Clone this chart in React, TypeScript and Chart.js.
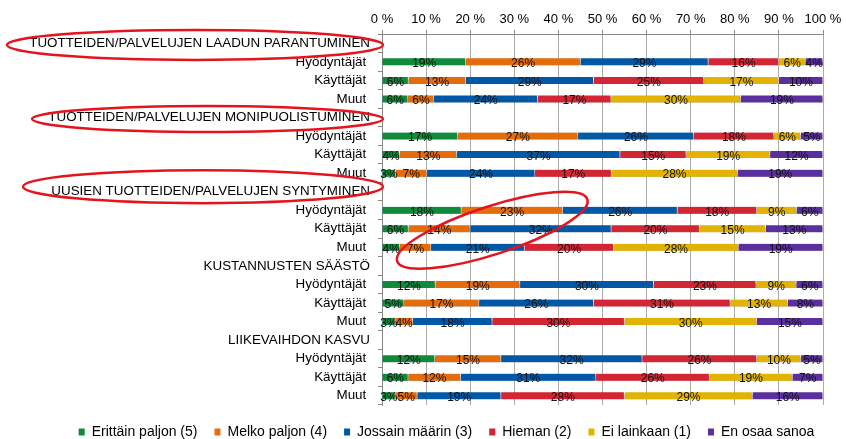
import React, { useEffect, useRef } from 'react';
import { Chart, registerables } from 'chart.js';

Chart.register(...registerables);

const categories = [
  'TUOTTEIDEN/PALVELUJEN LAADUN PARANTUMINEN', 'Hyödyntäjät ', 'Käyttäjät ', 'Muut ',
  'TUOTTEIDEN/PALVELUJEN MONIPUOLISTUMINEN', 'Hyödyntäjät ', 'Käyttäjät ', 'Muut ',
  'UUSIEN TUOTTEIDEN/PALVELUJEN SYNTYMINEN', 'Hyödyntäjät ', 'Käyttäjät ', 'Muut ',
  'KUSTANNUSTEN SÄÄSTÖ', 'Hyödyntäjät ', 'Käyttäjät ', 'Muut ',
  'LIIKEVAIHDON KASVU', 'Hyödyntäjät ', 'Käyttäjät ', 'Muut ',
];

const seriesNames = ['Erittäin paljon (5)', 'Melko paljon (4)', 'Jossain määrin (3)', 'Hieman (2)', 'Ei lainkaan (1)', 'En osaa sanoa'];

const erittainPaljon = [null, 19, 6, 6, null, 17, 4, 3, null, 18, 6, 4, null, 12, 5, 3, null, 12, 6, 3];
const melkoPaljon = [null, 26, 13, 6, null, 27, 13, 7, null, 23, 14, 7, null, 19, 17, 4, null, 15, 12, 5];
const jossainMaarin = [null, 29, 29, 24, null, 26, 37, 24, null, 26, 32, 21, null, 30, 26, 18, null, 32, 31, 19];
const hieman = [null, 16, 25, 17, null, 18, 15, 17, null, 18, 20, 20, null, 23, 31, 30, null, 26, 26, 28];
const eiLainkaan = [null, 6, 17, 30, null, 6, 19, 28, null, 9, 15, 28, null, 9, 13, 30, null, 10, 19, 29];
const enOsaaSanoa = [null, 4, 10, 19, null, 5, 12, 19, null, 6, 13, 19, null, 6, 8, 15, null, 5, 7, 16];

const xTicks = [0, 10, 20, 30, 40, 50, 60, 70, 80, 90, 100];

const colors = ['#0F8B3B', '#E46C0A', '#0058A6', '#D42535', '#E2B300', '#5B2FA0'];

const allSeries = [erittainPaljon, melkoPaljon, jossainMaarin, hieman, eiLainkaan, enOsaaSanoa];

const FONT = 'Arial, "Liberation Sans", sans-serif';

// annotation rings (hand-drawn red ellipses)
const headerRings = [
  { index: 0, left: 7, dy: 1.7, ry: 15 },
  { index: 4, left: 32, dy: 1.5, ry: 13 },
  { index: 8, left: 23, dy: -5, ry: 16.5 },
];
const tiltedRing = { xValue: 25, index: 10, dy: 1.5, rx: 100, ry: 24, rot: -18 };

const legendLeft = 47;

const shadowPlugin = {
  id: 'barShadow',
  beforeDatasetsDraw(chart: any) {
    const ctx = chart.ctx;
    ctx.save();
    ctx.shadowColor = 'rgba(0,0,0,0.35)';
    ctx.shadowOffsetX = 1;
    ctx.shadowOffsetY = 2;
    ctx.shadowBlur = 2;
  },
  afterDatasetsDraw(chart: any) {
    chart.ctx.restore();
  },
};

const legendShiftPlugin = {
  id: 'legendShift',
  afterLayout(chart: any) {
    if (chart.legend) {
      chart.legend.left = legendLeft;
      chart.legend.right = chart.width;
    }
  },
};

const labelPlugin = {
  id: 'segLabels',
  afterDatasetsDraw(chart: any) {
    const ctx = chart.ctx;
    ctx.save();
    ctx.font = `12px ${FONT}`;
    ctx.fillStyle = '#111';
    ctx.textAlign = 'center';
    ctx.textBaseline = 'middle';
    chart.data.datasets.forEach((ds: any, di: number) => {
      const meta = chart.getDatasetMeta(di);
      meta.data.forEach((el: any, i: number) => {
        const raw = ds.rawValues[i];
        if (raw == null) return;
        const x = (el.x + el.base) / 2;
        ctx.fillText(`${raw}%`, x, el.y + 2);
      });
    });
    ctx.restore();
  },
};

const ringPlugin = {
  id: 'rings',
  afterDraw(chart: any) {
    const { ctx, chartArea, scales } = chart;
    ctx.save();
    ctx.strokeStyle = '#E5141C';
    ctx.lineWidth = 2.5;
    headerRings.forEach((r) => {
      const yc = scales.y.getPixelForValue(r.index) + r.dy;
      const right = chartArea.left + 1;
      const cx = (r.left + right) / 2;
      const rx = (right - r.left) / 2;
      ctx.beginPath();
      ctx.ellipse(cx, yc, rx, r.ry, 0, 0, Math.PI * 2);
      ctx.stroke();
    });
    const t = tiltedRing;
    const cx = scales.x.getPixelForValue(t.xValue);
    const cy = scales.y.getPixelForValue(t.index) + t.dy;
    ctx.beginPath();
    ctx.ellipse(cx, cy, t.rx, t.ry, (t.rot * Math.PI) / 180, 0, Math.PI * 2);
    ctx.stroke();
    ctx.restore();
  },
};

export default function App() {
  const ref = useRef<HTMLCanvasElement | null>(null);

  useEffect(() => {
    if (!ref.current) return;
    const sums = categories.map((_, i) =>
      allSeries.reduce((s, arr) => s + (arr[i] ?? 0), 0)
    );
    const datasets = allSeries.map((arr, si) => ({
      label: seriesNames[si],
      data: arr.map((v, i) => (v == null ? null : (v / sums[i]) * 100)),
      rawValues: arr,
      backgroundColor: colors[si],
      borderColor: '#ffffff',
      borderWidth: { top: 0, bottom: 0, left: 0, right: 1 },
      borderSkipped: false,
      barThickness: 7,
    }));

    const chart = new Chart(ref.current, {
      type: 'bar',
      data: { labels: categories, datasets: datasets as any },
      options: {
        indexAxis: 'y',
        responsive: false,
        animation: false,
        events: [],
        layout: { padding: { left: 0, right: 23, top: 0, bottom: 0 } },
        scales: {
          x: {
            position: 'top',
            stacked: true,
            min: 0,
            max: 100,
            afterBuildTicks: (scale: any) => {
              scale.ticks = xTicks.map((v) => ({ value: v }));
            },
            afterFit: (scale: any) => {
              scale.height = 34;
            },
            ticks: {
              callback: (v: any) => `${v} %`,
              color: '#000',
              font: { family: FONT, size: 13 },
              padding: 3,
              maxRotation: 0,
            },
            grid: { color: '#ababab', tickLength: 4, tickColor: '#888' },
            border: { color: '#888' },
          },
          y: {
            stacked: true,
            afterFit: (scale: any) => {
              scale.width = 382;
            },
            ticks: {
              color: '#000',
              font: { family: FONT, size: 13.4 },
              padding: 8,
              autoSkip: false,
            },
            grid: { drawOnChartArea: false, offset: true, tickLength: 4, color: '#888' },
            border: { color: '#888' },
          },
        },
        plugins: {
          tooltip: { enabled: false },
          legend: {
            position: 'bottom',
            maxHeight: 34,
            title: { display: true, text: ' ', font: { size: 3, lineHeight: 1 }, padding: 0 },
            labels: {
              boxWidth: 6,
              boxHeight: 7,
              padding: 17,
              color: '#000',
              font: { family: FONT, size: 14 },
              generateLabels: (c: any) =>
                c.data.datasets.map((ds: any, i: number) => ({
                  text: ds.label,
                  fillStyle: ds.backgroundColor,
                  strokeStyle: ds.backgroundColor,
                  lineWidth: 0,
                  hidden: false,
                  datasetIndex: i,
                  fontColor: '#000',
                })),
            },
          },
        },
      } as any,
      plugins: [legendShiftPlugin, shadowPlugin, labelPlugin, ringPlugin],
    });
    return () => chart.destroy();
  }, []);

  return (
    <div style={{ position: 'absolute', left: 0, top: 0, width: 846, height: 439, background: '#fff' }}>
      <canvas ref={ref} width={846} height={439} style={{ display: 'block' }} />
    </div>
  );
}
